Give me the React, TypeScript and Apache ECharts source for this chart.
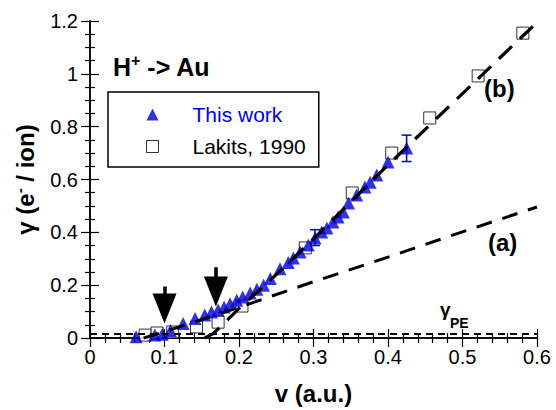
import React, { useEffect, useRef } from 'react';
import * as echarts from 'echarts';

const FONT = '"Liberation Sans", Arial, Helvetica, sans-serif';

// "This work" (blue triangles)
const thisWorkV = [0.062, 0.087, 0.097, 0.108, 0.125, 0.141, 0.154, 0.163, 0.172, 0.18, 0.188, 0.197, 0.205, 0.215, 0.224, 0.233, 0.242, 0.255, 0.266, 0.273, 0.282, 0.293, 0.302, 0.311, 0.318, 0.326, 0.333, 0.34, 0.347, 0.358, 0.369, 0.376, 0.385, 0.4, 0.425];
const thisWorkG = [0.005, 0.011, 0.014, 0.028, 0.055, 0.074, 0.087, 0.098, 0.106, 0.117, 0.13, 0.143, 0.155, 0.17, 0.185, 0.2, 0.225, 0.262, 0.286, 0.303, 0.326, 0.352, 0.379, 0.401, 0.416, 0.439, 0.458, 0.477, 0.511, 0.541, 0.572, 0.59, 0.617, 0.666, 0.719];

// error bars on "This work"
const errV = [0.302, 0.425];
const errLow = [0.35, 0.668];
const errHigh = [0.41, 0.768];

// Lakits, 1990 (open squares)
const lakitsV = [0.074, 0.09, 0.111, 0.143, 0.172, 0.204, 0.289, 0.352, 0.405, 0.456, 0.521, 0.581];
const lakitsG = [0.011, 0.019, 0.023, 0.042, 0.06, 0.121, 0.341, 0.549, 0.7, 0.833, 0.992, 1.154];

// curve (a)
const curveAV = [0.072, 0.1, 0.2, 0.3, 0.4, 0.5, 0.6];
const curveAG = [0, 0.024, 0.116, 0.213, 0.306, 0.402, 0.496];

// curve (b)
const curveBV = [0.154, 0.165, 0.178, 0.2, 0.25, 0.3, 0.35, 0.4, 0.45, 0.5, 0.55, 0.6];
const curveBG = [0, 0.016, 0.05, 0.112, 0.24, 0.375, 0.515, 0.655, 0.79, 0.925, 1.06, 1.195];

// gamma_PE level
const gammaPEV = [0, 0.6];
const gammaPEG = [0.015, 0.015];

// arrows (shaft top -> arrowhead centre)
const arrowV = [0.1, 0.169];
const arrowTop = [0.195, 0.268];
const arrowHead = [0.112, 0.176];

const xMin = 0, xMax = 0.6, xStep = 0.1;
const yMin = 0, yMax = 1.2, yStep = 0.2;

const zip = (a: number[], b: number[]) => a.map((v, i) => [v, b[i]]);

export default function App() {
  const ref = useRef<HTMLDivElement>(null);
  useEffect(() => {
    if (!ref.current) return;
    const chart = echarts.init(ref.current, null, { renderer: 'svg' });
    const axisLine = { show: true, lineStyle: { color: '#000', width: 1.5 } };
    const tick = { show: true, inside: true, length: 9, lineStyle: { color: '#000', width: 1.2 } };
    const minor = (n: number) => ({ show: true, splitNumber: n, length: 5, lineStyle: { color: '#000', width: 1.2 } });
    const labelStyle = { color: '#000', fontSize: 20, fontFamily: FONT };
    const blue = '#0000d6';

    chart.setOption({
      animation: false,
      backgroundColor: '#fff',
      grid: { left: 90, right: 19, top: 21, bottom: 72, containLabel: false },
      xAxis: [
        {
          type: 'value', min: xMin, max: xMax, interval: xStep, position: 'bottom',
          axisLine, axisTick: tick, minorTick: minor(5), splitLine: { show: false },
          axisLabel: { ...labelStyle, margin: 9 },
          name: 'v (a.u.)', nameLocation: 'middle', nameGap: 43,
          nameTextStyle: { color: '#000', fontSize: 24, fontWeight: 'bold', fontFamily: FONT },
        },
        {
          type: 'value', min: xMin, max: xMax, interval: xStep, position: 'top',
          axisLine, axisTick: tick, minorTick: minor(5), splitLine: { show: false },
          axisLabel: { show: false },
        },
      ],
      yAxis: [
        {
          type: 'value', min: yMin, max: yMax, interval: yStep, position: 'left',
          axisLine, axisTick: tick, minorTick: minor(4), splitLine: { show: false },
          axisLabel: { ...labelStyle, margin: 12 },
          name: '{a|γ (e}{s|-}{a| / ion)}', nameLocation: 'middle', nameGap: 52, nameRotate: 90,
          nameTextStyle: {
            color: '#000', fontSize: 24, fontWeight: 'bold', fontFamily: FONT,
            rich: {
              a: { fontSize: 24, fontWeight: 'bold', fontFamily: FONT, color: '#000' },
              s: { fontSize: 15, fontWeight: 'bold', fontFamily: FONT, color: '#000', verticalAlign: 'top', lineHeight: 26 },
            },
          },
        },
        {
          type: 'value', min: yMin, max: yMax, interval: yStep, position: 'right',
          axisLine, axisTick: tick, minorTick: minor(4), splitLine: { show: false },
          axisLabel: { show: false },
        },
      ],
      legend: {
        orient: 'vertical', left: 108, top: 92,
        padding: [12, 13, 10, 38], itemGap: 11, itemWidth: 12, itemHeight: 12,
        borderColor: '#000', borderWidth: 1.5, borderRadius: 0, backgroundColor: '#fff',
        textStyle: { fontSize: 21, fontFamily: FONT, color: '#000', padding: [0, 0, 0, 29] },
        data: [
          { name: 'This work', icon: 'triangle', textStyle: { color: '#0000ee' } },
          { name: 'Lakits, 1990', icon: 'rect', itemStyle: { color: '#fff', borderColor: '#000', borderWidth: 1 } },
        ],
        selectedMode: false,
      },
      series: [
        {
          name: 'Lakits, 1990', type: 'scatter', symbol: 'rect', symbolSize: 12, z: 2,
          itemStyle: { color: '#fff', borderColor: '#000', borderWidth: 1 },
          data: zip(lakitsV, lakitsG),
        },
        {
          name: 'This work', type: 'scatter', symbol: 'triangle', symbolSize: 13, z: 3,
          itemStyle: { color: blue },
          data: zip(thisWorkV, thisWorkG),
          markLine: {
            silent: true, symbol: ['none', 'triangle'], symbolSize: [24, 30],
            itemStyle: { color: '#000' },
            lineStyle: { color: '#000', width: 3.5, type: 'solid' }, label: { show: false },
            data: arrowV.map((v, i) => [{ coord: [v, arrowTop[i]] }, { coord: [v, arrowHead[i]] }]),
          },
        },
        {
          name: 'err', type: 'custom', z: 3,
          data: errV.map((v, i) => [v, errLow[i], errHigh[i]]),
          renderItem: (params: any, api: any) => {
            const p1 = api.coord([api.value(0), api.value(1)]);
            const p2 = api.coord([api.value(0), api.value(2)]);
            const w = 5;
            const st = { stroke: blue, lineWidth: 1.5 };
            return {
              type: 'group',
              children: [
                { type: 'line', shape: { x1: p1[0], y1: p1[1], x2: p2[0], y2: p2[1] }, style: st },
                { type: 'line', shape: { x1: p1[0] - w, y1: p1[1], x2: p1[0] + w, y2: p1[1] }, style: st },
                { type: 'line', shape: { x1: p2[0] - w, y1: p2[1], x2: p2[0] + w, y2: p2[1] }, style: st },
              ],
            };
          },
        },
        {
          name: 'curve a', type: 'line', showSymbol: false, z: 4,
          lineStyle: { color: '#000', width: 3, type: [16, 11] },
          data: zip(curveAV, curveAG),
        },
        {
          name: 'curve b', type: 'line', showSymbol: false, z: 4,
          lineStyle: { color: '#000', width: 3.2, type: [18, 11] },
          data: zip(curveBV, curveBG),
        },
        {
          name: 'gammaPE', type: 'line', showSymbol: false, z: 4,
          lineStyle: { color: '#000', width: 2, type: [7, 5] },
          data: zip(gammaPEV, gammaPEG),
        },
      ],
      graphic: [
        {
          type: 'text', left: 113, top: 52, z: 10,
          style: {
            text: '{a|H}{s|+}{a| -> Au}',
            rich: {
              a: { fontSize: 25, fontWeight: 'bold', fontFamily: FONT, fill: '#000', lineHeight: 30 },
              s: { fontSize: 16, fontWeight: 'bold', fontFamily: FONT, fill: '#000', verticalAlign: 'top', lineHeight: 30 },
            },
          },
        },
        {
          type: 'text', left: 484, top: 76, z: 10,
          style: { text: '(b)', fontSize: 24, fontWeight: 'bold', fontFamily: FONT, fill: '#000' },
        },
        {
          type: 'text', left: 488, top: 230, z: 10,
          style: { text: '(a)', fontSize: 24, fontWeight: 'bold', fontFamily: FONT, fill: '#000' },
        },
        {
          type: 'text', left: 440, top: 300, z: 10,
          style: { text: 'γ', fontSize: 19, fontWeight: 'bold', fontFamily: FONT, fill: '#000' },
        },
        {
          type: 'text', left: 450, top: 316, z: 10,
          style: { text: 'PE', fontSize: 14, fontWeight: 'bold', fontFamily: FONT, fill: '#000' },
        },
      ],
    });
    return () => chart.dispose();
  }, []);
  return <div ref={ref} style={{ position: 'fixed', left: 0, top: 0, width: 556, height: 410 }} />;
}
